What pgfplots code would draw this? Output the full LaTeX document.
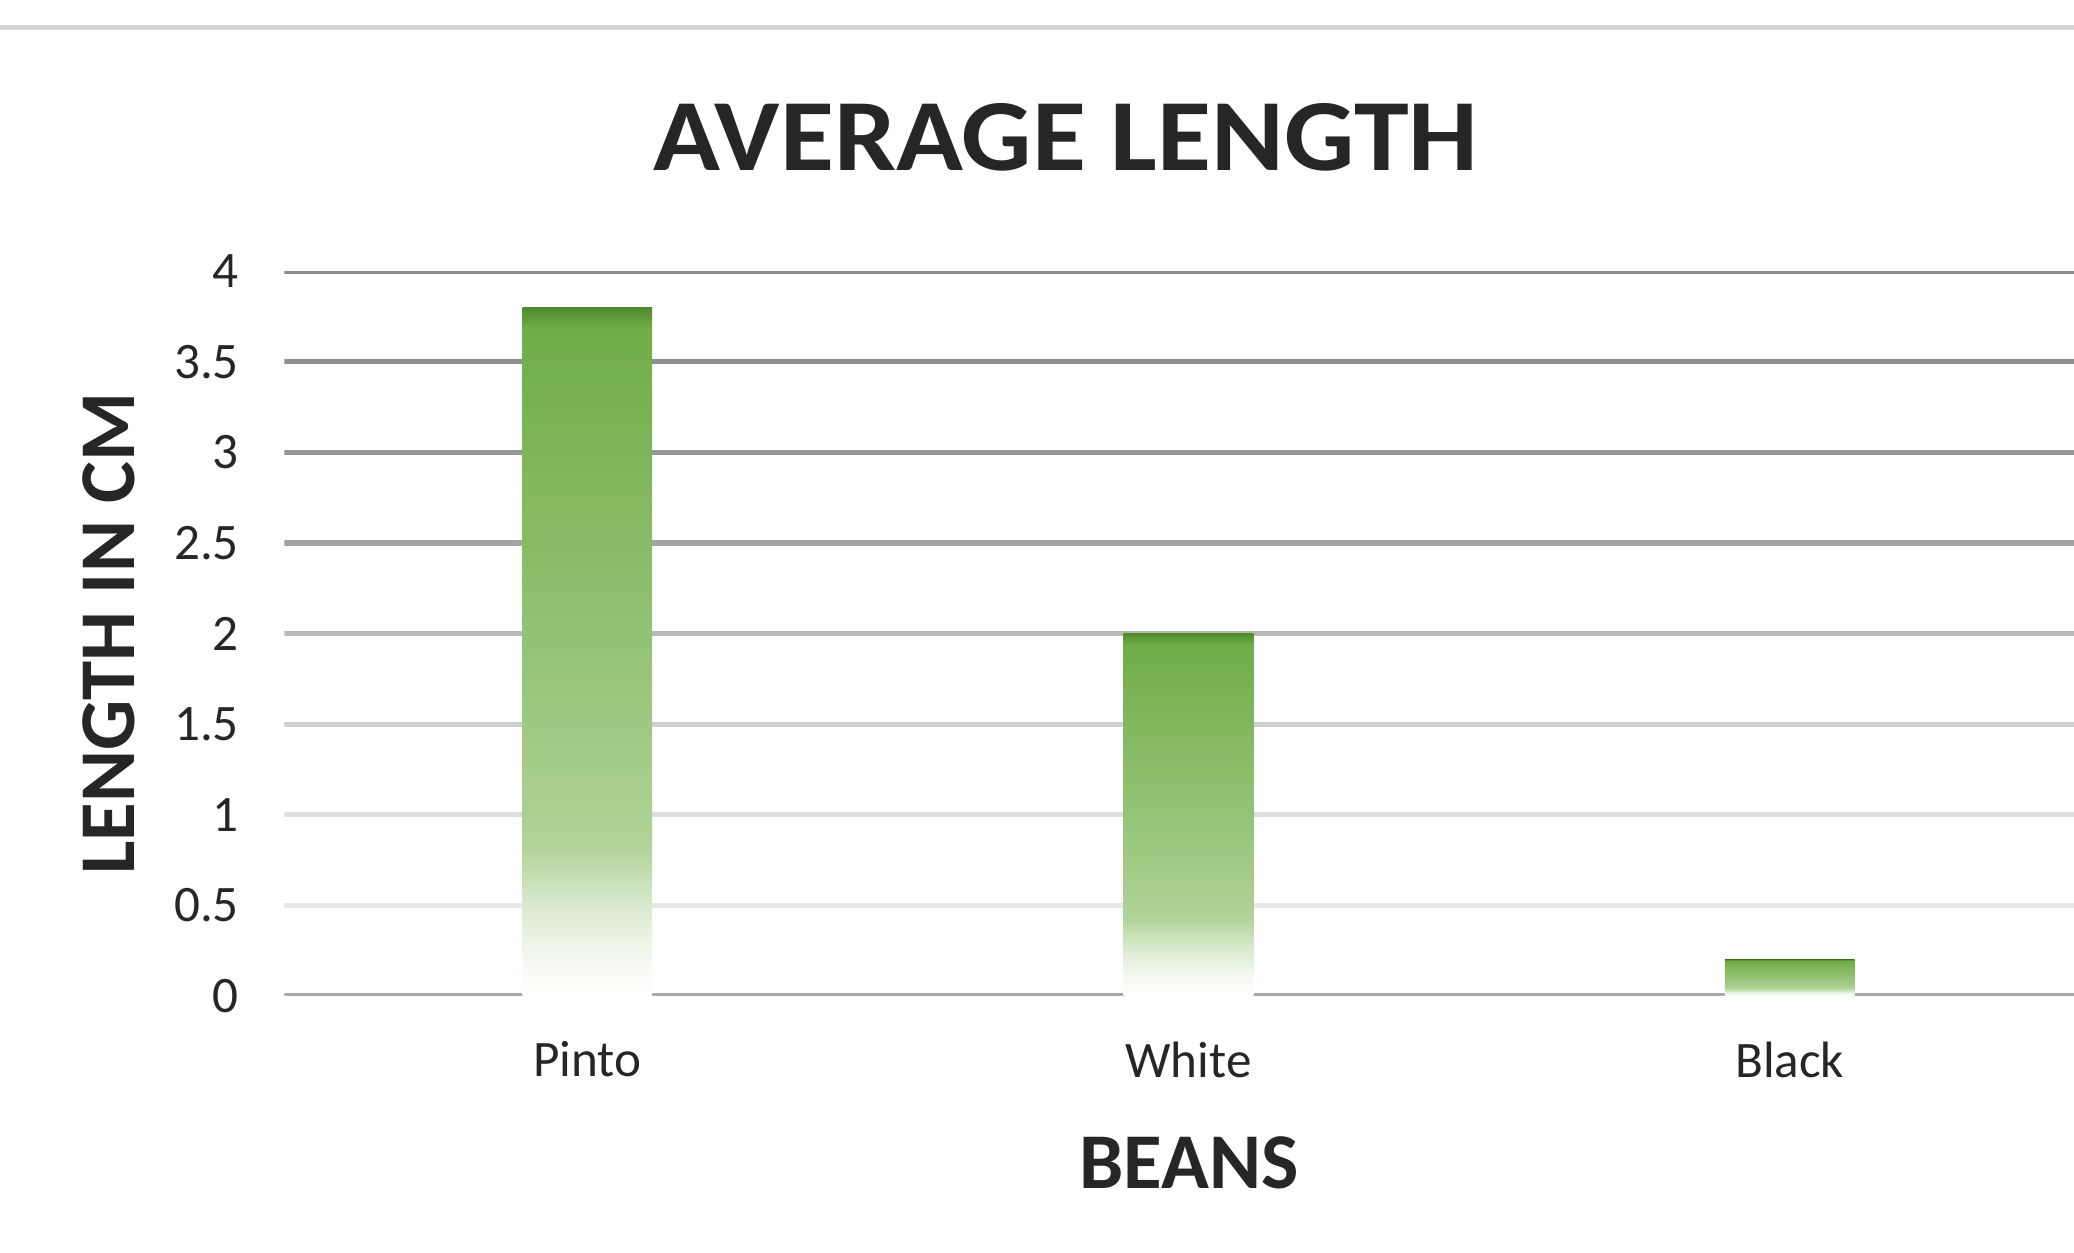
\documentclass[border=0pt]{standalone}
\usepackage{graphicx}
\usepackage{pgfplots}
\pgfplotsset{compat=1.18}
\usepackage{fontspec}
\setmainfont{Carlito}
\definecolor{g0}{HTML}{4E8A2C}
\definecolor{g1}{HTML}{70AD47}
\definecolor{gA}{HTML}{F3F8EF}
\definecolor{gB}{HTML}{DAEACF}
\definecolor{gC}{HTML}{AFD396}
\definecolor{gD}{HTML}{95C377}
\definecolor{txt}{HTML}{262626}
\definecolor{topline}{HTML}{D6D6D6}
\pgfdeclareverticalshading{barshade}{100bp}{color(0bp)=(white); color(25bp)=(white); color(28bp)=(gA); color(31.5bp)=(gB); color(36bp)=(gC); color(50bp)=(gD); color(73.5bp)=(g1); color(75bp)=(g0); color(100bp)=(g0)}
\begin{document}
\begin{tikzpicture}
\path[use as bounding box] (0,0) rectangle (15.68,9.47);
\draw[color=topline, line width=1.1pt] (0,9.26) -- (15.68,9.26);
\begin{axis}[
  at={(2.15cm,1.94cm)}, anchor=south west,
  scale only axis, width=13.53cm, height=5.48cm,
  xmin=-0.504, xmax=2.473, ymin=0, ymax=4,
  axis line style={draw=none}, major tick length=0pt,
  ytick={0,0.5,1,1.5,2,2.5,3,3.5,4},
  xtick={0,1,2}, xticklabels={Pinto,White,Black},
  /pgf/number format/assume math mode=true,
  yticklabel style={font=\fontsize{11}{13}\selectfont, text=txt, xshift=-0.22cm},
  xticklabel style={font=\fontsize{11}{13}\selectfont, text=txt, yshift=-0.22cm},
  ybar, bar width=0.98cm,
  title={\scalebox{1.08}[1]{AVERAGE LENGTH}},
  title style={at={(axis description cs:0.4368,1.146)}, anchor=center, font=\fontsize{22}{26}\selectfont\bfseries, text=txt},
  xlabel={BEANS},
  xlabel style={at={(axis description cs:0.5055,-0.23)}, anchor=center, font=\fontsize{17}{20}\selectfont\bfseries, text=txt},
  ylabel={LENGTH IN CM},
  every axis y label/.style={at={(axis description cs:-0.0983,0.5)}, rotate=90, anchor=center, font=\fontsize{17}{20}\selectfont\bfseries, text=txt},
]
\draw[line width=1.1pt, color=black!46] (axis cs:-0.504,4) -- (axis cs:2.473,4);
\draw[line width=1.1pt, color=black!44] (axis cs:-0.504,3.5) -- (axis cs:2.473,3.5);
\draw[line width=1.1pt, color=black!41] (axis cs:-0.504,3) -- (axis cs:2.473,3);
\draw[line width=1.1pt, color=black!36] (axis cs:-0.504,2.5) -- (axis cs:2.473,2.5);
\draw[line width=1.1pt, color=black!28] (axis cs:-0.504,2) -- (axis cs:2.473,2);
\draw[line width=1.1pt, color=black!19] (axis cs:-0.504,1.5) -- (axis cs:2.473,1.5);
\draw[line width=1.1pt, color=black!13] (axis cs:-0.504,1) -- (axis cs:2.473,1);
\draw[line width=1.1pt, color=black!9] (axis cs:-0.504,0.5) -- (axis cs:2.473,0.5);
\draw[line width=1.1pt, color=black!34] (axis cs:-0.504,0) -- (axis cs:2.473,0);
\addplot[draw=none, shade, shading=barshade, bar shift=0pt] coordinates {(0,3.8)};
\addplot[draw=none, shade, shading=barshade, bar shift=0pt] coordinates {(1,2)};
\addplot[draw=none, shade, shading=barshade, bar shift=0pt] coordinates {(2,0.2)};
\end{axis}
\end{tikzpicture}
\end{document}
